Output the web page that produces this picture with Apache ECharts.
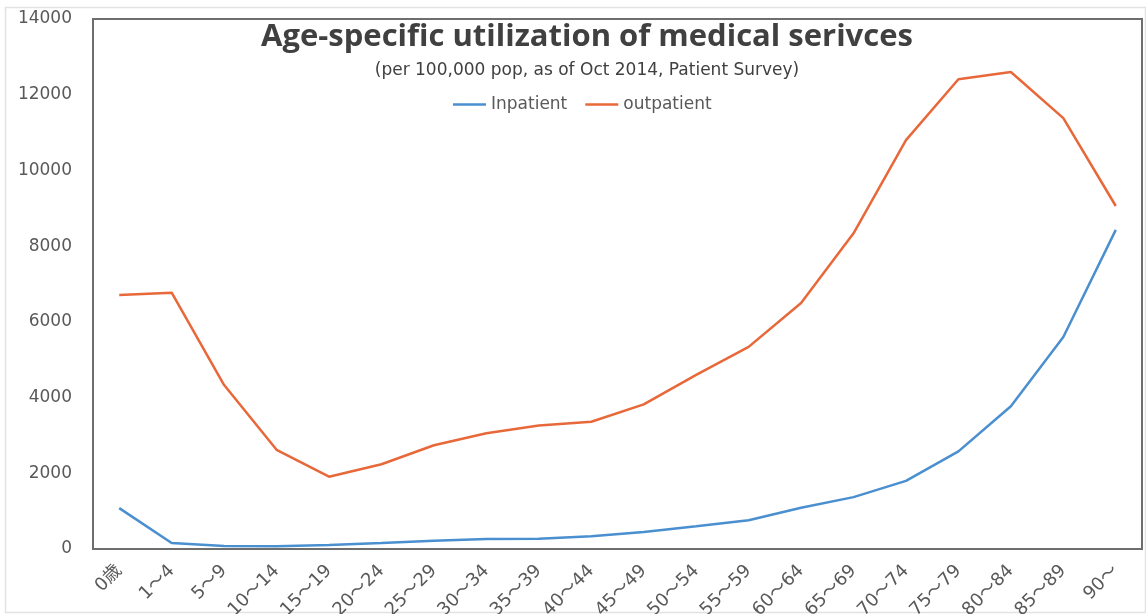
<!DOCTYPE html>
<html>
<head>
<meta charset="utf-8">
<script src="https://cdn.jsdelivr.net/npm/echarts@6/dist/echarts.min.js"></script>
<style>
  html, body { margin: 0; padding: 0; background: #fff; }
  #chartAge { width: 1146px; height: 614px; }
</style>
</head>
<body>
<div id="chartAge"></div>
<script>
var ageGroups = ["0歳", "1～4", "5～9", "10～14", "15～19", "20～24", "25～29", "30～34", "35～39", "40～44",
  "45～49", "50～54", "55～59", "60～64", "65～69", "70～74", "75～79", "80～84", "85～89", "90～"];
var inpatient = [1080, 160, 80, 75, 105, 158, 215, 265, 272, 335, 450, 600, 760, 1090, 1370, 1800, 2580, 3770, 5600, 8430];
var outpatient = [6710, 6770, 4330, 2620, 1910, 2240, 2740, 3060, 3260, 3360, 3820, 4600, 5340, 6500, 8340, 10800, 12410, 12600, 11380, 9060];
var yTicks = [0, 14000, 2000]; // min, max, interval

InitAgeChart();

function InitAgeChart() {
  var myChart = echarts.init(document.getElementById("chartAge"));
  var option = {
    backgroundColor: "#fff",
    animation: false,
    // faint outer frame of the chart area
    graphic: [
      {
        type: "rect",
        silent: true,
        shape: { x: 5.5, y: 7.5, width: 1140, height: 605 },
        style: { fill: null, stroke: "#e2e2e2", lineWidth: 1.5 },
      },
    ],
    title: {
      text: "Age-specific utilization of medical serivces",
      subtext: "(per 100,000 pop, as of Oct 2014, Patient Survey)",
      left: 582,
      textAlign: "center",
      top: 17,
      itemGap: 9,
      textStyle: {
        fontFamily: "Open Sans",
        fontWeight: "bold",
        fontSize: 31,
        color: "#404040",
      },
      subtextStyle: {
        fontFamily: "DejaVu Sans",
        fontSize: 17,
        color: "#404040",
      },
    },
    legend: {
      top: 91,
      left: 448,
      icon: "rect",
      itemWidth: 33,
      itemHeight: 2.5,
      itemGap: 18,
      textStyle: {
        fontFamily: "DejaVu Sans",
        fontSize: 17,
        color: "#595959",
      },
      data: ["Inpatient", "outpatient"],
    },
    grid: {
      show: true,
      left: 93,
      right: 4,
      top: 19,
      bottom: 65,
      borderColor: "#6e6e6e",
      borderWidth: 2,
      containLabel: false,
      outerBoundsMode: "none",
    },
    xAxis: {
      type: "category",
      boundaryGap: true,
      data: ageGroups,
      axisLine: { show: false },
      axisTick: { show: false },
      axisLabel: {
        rotate: 45,
        margin: 19,
        interval: 0,
        fontFamily: "DejaVu Sans, Noto Sans CJK JP",
        fontSize: 18,
        color: "#595959",
      },
    },
    yAxis: {
      type: "value",
      min: yTicks[0],
      max: yTicks[1],
      interval: yTicks[2],
      axisLine: { show: false },
      axisTick: { show: false },
      splitLine: { show: false },
      axisLabel: {
        margin: 21,
        fontFamily: "DejaVu Sans",
        fontSize: 17,
        color: "#595959",
        formatter: function (v) { return String(v); },
      },
    },
    series: [
      {
        name: "Inpatient",
        type: "line",
        symbol: "none",
        data: inpatient,
        lineStyle: { color: "#4a8fcf", width: 2.5 },
        itemStyle: { color: "#4a8fcf" },
      },
      {
        name: "outpatient",
        type: "line",
        symbol: "none",
        data: outpatient,
        lineStyle: { color: "#e8683a", width: 2.5 },
        itemStyle: { color: "#e8683a" },
      },
    ],
  };
  myChart.setOption(option);
}
</script>
</body>
</html>
